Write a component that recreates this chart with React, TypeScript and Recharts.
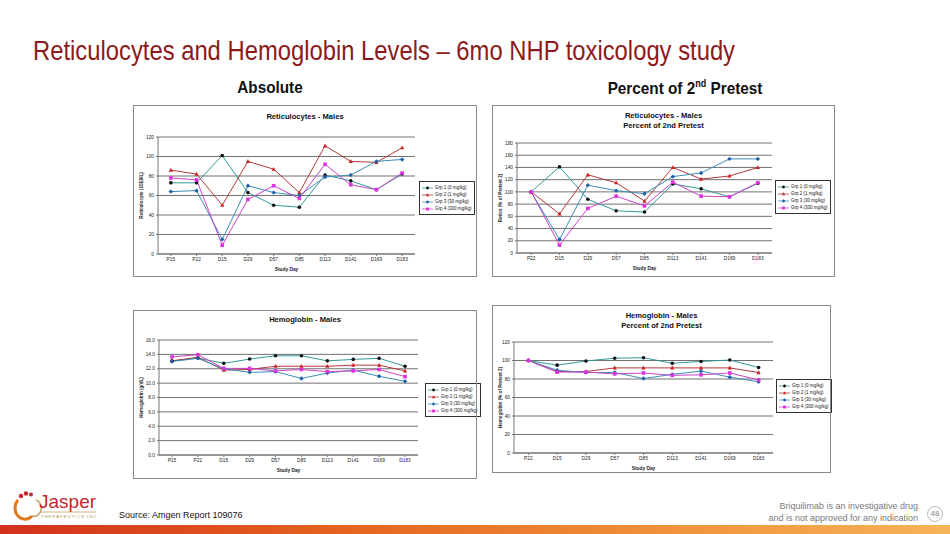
import React from 'react';
import { LineChart, Line, XAxis, YAxis, CartesianGrid } from 'recharts';

// study days on the category axis
const absDays = ['P15', 'P22', 'D15', 'D29', 'D57', 'D85', 'D113', 'D141', 'D169', 'D183'];
const pctDays = ['P22', 'D15', 'D29', 'D57', 'D85', 'D113', 'D141', 'D169', 'D183'];
const groupNames = ['Grp 1 (0 mg/kg)', 'Grp 2 (1 mg/kg)', 'Grp 3 (30 mg/kg)', 'Grp 4 (300 mg/kg)'];

// Reticulocytes - absolute
const retAbsGrp1 = [73, 73, 101, 63, 50, 48, 81, 75, 66, 82];
const retAbsGrp2 = [86, 82, 50, 95, 87, 63, 111, 95, 94, 109];
const retAbsGrp3 = [64, 65, 15, 70, 63, 60, 79, 81, 95, 97];
const retAbsGrp4 = [78, 76, 9, 56, 70, 57, 92, 71, 66, 83];
const retAbsTicks = [0, 20, 40, 60, 80, 100, 120];

// Reticulocytes - % of 2nd pretest
const retPctGrp1 = [100, 141, 88, 69, 67, 113, 105, 92, 114];
const retPctGrp2 = [100, 64, 128, 115, 85, 140, 121, 126, 140];
const retPctGrp3 = [100, 22, 111, 102, 97, 125, 131, 154, 154];
const retPctGrp4 = [100, 13, 73, 93, 77, 116, 93, 92, 115];
const retPctTicks = [0, 20, 40, 60, 80, 100, 120, 140, 160, 180];

// Hemoglobin - absolute (g/dL)
const hgbAbsGrp1 = [13.1, 13.5, 12.75, 13.35, 13.8, 13.8, 13.1, 13.3, 13.45, 12.35];
const hgbAbsGrp2 = [13.1, 13.6, 11.8, 11.9, 12.35, 12.35, 12.35, 12.5, 12.5, 11.7];
const hgbAbsGrp3 = [13.0, 13.45, 12.0, 11.5, 11.6, 10.65, 11.4, 11.8, 10.95, 10.25];
const hgbAbsGrp4 = [13.65, 13.95, 12.05, 12.05, 11.7, 11.9, 11.6, 11.7, 11.9, 10.9];
const hgbAbsTicks = [0, 2, 4, 6, 8, 10, 12, 14, 16];

// Hemoglobin - % of 2nd pretest
const hgbPctGrp1 = [100, 95, 99.5, 102.5, 103, 97, 99, 100.5, 92.5];
const hgbPctGrp2 = [100, 88, 88, 92, 92, 92, 92, 92, 87];
const hgbPctGrp3 = [100, 89.5, 87, 87, 80.5, 85, 88.5, 82, 77];
const hgbPctGrp4 = [100, 87.5, 87.5, 85.5, 86.5, 84, 84.5, 86.5, 79];
const hgbPctTicks = [0, 20, 40, 60, 80, 100, 120];

const groupStyles = [
  { line: '#339999', mark: '#111111', shape: 'circle' },
  { line: '#b03a3a', mark: '#cc2222', shape: 'triangle' },
  { line: '#3a8fb5', mark: '#1f5fa8', shape: 'diamond' },
  { line: '#cc44cc', mark: '#dd33dd', shape: 'square' },
];

const FONT = '"Liberation Sans", Arial, sans-serif';

function Marker({ cx, cy, shape, color, s = 1 }: any) {
  if (cx == null || cy == null) return null;
  if (shape === 'circle') return <circle cx={cx} cy={cy} r={1.8 * s} fill={color} />;
  if (shape === 'triangle')
    return <polygon points={`${cx},${cy - 2.3 * s} ${cx + 2.1 * s},${cy + 1.6 * s} ${cx - 2.1 * s},${cy + 1.6 * s}`} fill={color} />;
  if (shape === 'diamond')
    return <polygon points={`${cx},${cy - 2.2 * s} ${cx + 2.2 * s},${cy} ${cx},${cy + 2.2 * s} ${cx - 2.2 * s},${cy}`} fill={color} />;
  return <rect x={cx - 1.8 * s} y={cy - 1.8 * s} width={3.6 * s} height={3.6 * s} fill={color} />;
}

function YTitle({ viewBox, text, tx }: any) {
  const cy = viewBox.y + viewBox.height / 2;
  return (
    <text x={tx} y={cy} transform={`rotate(-90 ${tx} ${cy})`} textAnchor="middle" dominantBaseline="central"
      fontSize={4.6} fontWeight="bold" fill="#222">
      {text}
    </text>
  );
}

function LegendBox({ left, top }: any) {
  return (
    <div style={{ position: 'absolute', left, top, border: '1px solid #333', background: '#fff', padding: '2px 2px',
      fontSize: 4.5, lineHeight: '7px', color: '#111' }}>
      {groupNames.map((n, i) => (
        <div key={n} style={{ display: 'flex', alignItems: 'center', whiteSpace: 'nowrap' }}>
          <svg width={11} height={6}>
            <line x1={0} y1={3} x2={11} y2={3} stroke={groupStyles[i].line} strokeWidth={0.8} />
            <Marker cx={5.5} cy={3} shape={groupStyles[i].shape} color={groupStyles[i].mark} s={0.8} />
          </svg>
          <span style={{ marginLeft: 2 }}>{n}</span>
        </div>
      ))}
    </div>
  );
}

function Panel(p: any) {
  const [fl, ft, fr, fb] = p.box;
  const [pl, pt, pr, pb] = p.plot;
  const W = fr - fl;
  const H = fb - ft;
  const yW = 14;
  const xH = 17;
  const rows = p.categories.map((day: string, i: number) => {
    const r: any = { day };
    p.series.forEach((s: number[], k: number) => (r['g' + k] = s[i]));
    return r;
  });
  const half = (pr - pl) / p.categories.length / 2;
  return (
    <div style={{ position: 'absolute', left: fl, top: ft, width: W, height: H, fontFamily: FONT, background: '#fff' }}>
      <LineChart width={W} height={H} data={rows}
        margin={{ top: pt - ft, left: pl - fl - yW, right: fr - pr, bottom: fb - pb - xH }}>
        <CartesianGrid vertical={false} stroke="#4d4d4d" strokeWidth={0.8} />
        <XAxis dataKey="day" interval={0} padding={{ left: half, right: half }} height={xH}
          tick={{ fontSize: 4.8, fill: '#222' }} tickSize={2} tickMargin={2}
          axisLine={{ stroke: '#777' }} tickLine={{ stroke: '#777' }}
          label={{ value: 'Study Day', position: 'insideBottom', offset: 0, fontSize: 4.8, fontWeight: 'bold', fill: '#222' }} />
        <YAxis width={yW} domain={p.domain} ticks={p.ticks} interval={0}
          tickFormatter={(v: number) => v.toFixed(p.decimals)}
          tick={{ fontSize: 4.8, fill: '#222' }} tickSize={2} tickMargin={2}
          axisLine={{ stroke: '#777' }} tickLine={{ stroke: '#777' }}
          label={<YTitle text={p.yTitle} tx={p.yTitleX - fl} />} />
        {p.series.map((_: number[], k: number) => (
          <Line key={k} dataKey={'g' + k} name={groupNames[k]} stroke={groupStyles[k].line} strokeWidth={1}
            isAnimationActive={false}
            dot={(d: any) => <Marker key={d.index} cx={d.cx} cy={d.cy} shape={groupStyles[k].shape} color={groupStyles[k].mark} />} />
        ))}
      </LineChart>
      <div style={{ position: 'absolute', left: 0, right: 0, top: p.titleTop, textAlign: 'center', fontSize: 7.6,
        fontWeight: 'bold', lineHeight: '9.6px', color: '#111' }}>
        {p.titleLines.map((t: string) => <div key={t}>{t}</div>)}
      </div>
      <LegendBox left={p.legendAt[0] - fl} top={p.legendAt[1] - ft} />
      <div style={{ position: 'absolute', inset: 0, border: '1px solid #8a8a8a', pointerEvents: 'none' }} />
    </div>
  );
}

function Logo() {
  return (
    <div style={{ position: 'absolute', left: 12, top: 490 }}>
      <svg width={90} height={32}>
        <path d="M6 10 A8 9 0 0 0 20 26" fill="none" stroke="#e07a1f" strokeWidth={3} />
        <path d="M20 26 A7 8 0 0 0 24 10" fill="none" stroke="#c9a060" strokeWidth={1.5} />
        <circle cx={9} cy={6} r={2.2} fill="#c0282d" />
        <circle cx={14} cy={3.5} r={2.2} fill="#c0282d" />
        <circle cx={19} cy={4.5} r={2} fill="#c0282d" />
        <text x={27} y={18} fontSize={19} fontFamily={FONT} fill="#c0282d">Jasper</text>
        <line x1={28} y1={22} x2={84} y2={22} stroke="#c9a060" strokeWidth={0.8} />
        <text x={29} y={28} fontSize={4.3} letterSpacing={0.9} fontFamily={FONT} fill="#b8925a">THERAPEUTICS INC.</text>
      </svg>
    </div>
  );
}

export default function App() {
  return (
    <div style={{ position: 'absolute', left: 0, top: 0, width: 950, height: 534, background: '#fff', overflow: 'hidden', fontFamily: FONT }}>
      <div style={{ position: 'absolute', left: 33, top: 35, fontSize: 28, color: '#8c1a1a', whiteSpace: 'nowrap',
        transform: 'scaleX(0.85)', transformOrigin: 'left top' }}>
        Reticulocytes and Hemoglobin Levels – 6mo NHP toxicology study
      </div>
      <div style={{ position: 'absolute', left: 220, width: 100, top: 78, textAlign: 'center', fontSize: 17, fontWeight: 'bold',
        color: '#111', transform: 'scaleX(0.9)' }}>
        Absolute
      </div>
      <div style={{ position: 'absolute', left: 585, width: 200, top: 78, textAlign: 'center', fontSize: 17, fontWeight: 'bold',
        color: '#111', whiteSpace: 'nowrap', transform: 'scaleX(0.9)' }}>
        Percent of 2<sup style={{ fontSize: 10 }}>nd</sup> Pretest
      </div>

      <Panel box={[133, 105, 477, 277]} plot={[158, 137, 415, 254]} titleLines={['Reticulocytes - Males']} titleTop={7}
        categories={absDays} series={[retAbsGrp1, retAbsGrp2, retAbsGrp3, retAbsGrp4]} domain={[0, 120]} ticks={retAbsTicks}
        decimals={0} yTitle="Reticulocyte (10E9/L)" yTitleX={141} legendAt={[419, 181]} />
      <Panel box={[492, 105, 835, 277]} plot={[517, 143, 772, 253]} titleLines={['Reticulocytes - Males', 'Percent of 2nd Pretest']} titleTop={6}
        categories={pctDays} series={[retPctGrp1, retPctGrp2, retPctGrp3, retPctGrp4]} domain={[0, 180]} ticks={retPctTicks}
        decimals={0} yTitle="Retics (% of Pretest 2)" yTitleX={500} legendAt={[775, 180]} />
      <Panel box={[133, 310, 477, 479]} plot={[159, 340, 418, 455]} titleLines={['Hemoglobin - Males']} titleTop={5}
        categories={absDays} series={[hgbAbsGrp1, hgbAbsGrp2, hgbAbsGrp3, hgbAbsGrp4]} domain={[0, 16]} ticks={hgbAbsTicks}
        decimals={1} yTitle="Hemoglobin (g/dL)" yTitleX={141} legendAt={[425, 383]} />
      <Panel box={[492, 305, 831, 473]} plot={[514, 342, 773, 453]} titleLines={['Hemoglobin - Males', 'Percent of 2nd Pretest']} titleTop={6}
        categories={pctDays} series={[hgbPctGrp1, hgbPctGrp2, hgbPctGrp3, hgbPctGrp4]} domain={[0, 120]} ticks={hgbPctTicks}
        decimals={0} yTitle="Hemoglobin (% of Pretest 2)" yTitleX={500} legendAt={[776, 379]} />

      <Logo />
      <div style={{ position: 'absolute', left: 119, top: 510, fontSize: 9, color: '#111' }}>Source: Amgen Report 109076</div>
      <div style={{ position: 'absolute', right: 32, top: 500, fontSize: 9, lineHeight: '12px', color: '#7a7a7a', textAlign: 'right' }}>
        Briquilimab is an investigative drug<br />and is not approved for any indication
      </div>
      <div style={{ position: 'absolute', left: 927, top: 506, width: 14, height: 14, borderRadius: 8, border: '1px solid #bbb',
        fontSize: 8, color: '#888', textAlign: 'center', lineHeight: '14px' }}>48</div>
      <div style={{ position: 'absolute', left: 0, top: 525, width: 950, height: 9,
        background: 'linear-gradient(90deg, #d2301c 0%, #e4621f 35%, #f0923a 70%, #f6b358 100%)' }} />
    </div>
  );
}
